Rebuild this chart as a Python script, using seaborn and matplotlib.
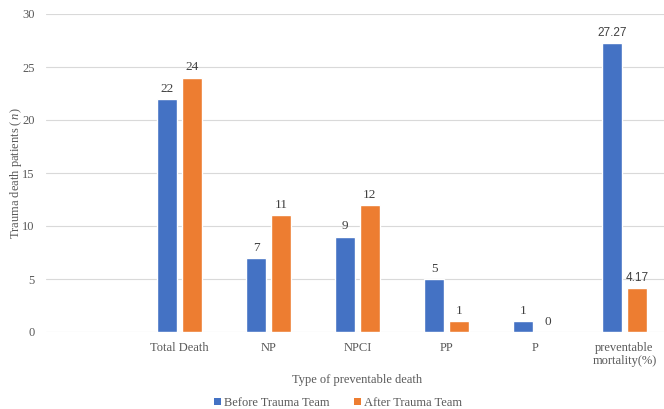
import matplotlib
matplotlib.use("Agg")
import matplotlib.pyplot as plt
from matplotlib.patches import Patch
import seaborn as sns
import pandas as pd

# Preventable death categories (leading blank slot keeps the left margin)
categories = ["", "Total Death", "NP", "NPCI", "PP", "P", "preventable\nmortality(%)"]
before_team = [None, 22, 7, 9, 5, 1, 27.27]
after_team = [None, 24, 11, 12, 1, 0, 4.17]
series_names = ["Before Trauma Team", "After Trauma Team"]
colors = ["#4472C4", "#ED7D31"]

rows = []
for cat, b, a in zip(categories, before_team, after_team):
    rows.append({"category": cat, "group": series_names[0], "value": b})
    rows.append({"category": cat, "group": series_names[1], "value": a})
df = pd.DataFrame(rows)

sns.set_theme(style="white")
plt.rcParams["font.family"] = ["Liberation Serif", "DejaVu Serif"]
plt.rcParams["mathtext.fontset"] = "custom"
plt.rcParams["mathtext.it"] = "Liberation Serif:italic"
plt.rcParams["mathtext.rm"] = "Liberation Serif"

fig = plt.figure(figsize=(6.64, 4.09), dpi=100)
ax = fig.add_axes([46 / 664, 77 / 409, 623 / 664, 318 / 409])

sns.barplot(
    data=df, x="category", y="value", hue="group", order=categories,
    hue_order=series_names, palette=colors, width=0.56, gap=0.2,
    saturation=1, legend=False, ax=ax, errorbar=None,
)

ax.set_ylim(0, 30)
ax.set_yticks(range(0, 31, 5))
ax.set_xlim(-0.5, len(categories) - 0.5)
ax.yaxis.grid(True, color="#D9D9D9", linewidth=0.8)
ax.set_axisbelow(True)
for s in ax.spines.values():
    s.set_visible(False)
ax.tick_params(axis="both", length=0, colors="#595959", labelsize=9)
ax.tick_params(axis="y", pad=8)
ax.tick_params(axis="x", pad=7)
for lbl in ax.get_xticklabels():
    lbl.set_linespacing(1.15)

# Value labels above each bar
for container in ax.containers:
    for bar in container:
        if bar is None:
            continue
        v = bar.get_height()
        if float(v).is_integer():
            txt, fam, fs = str(int(v)), ["Liberation Serif"], 9.5
        else:
            txt, fam, fs = f"{v:.2f}", ["Liberation Sans", "DejaVu Sans"], 8.5
        ax.annotate(txt, (bar.get_x() + bar.get_width() / 2, v),
                    xytext=(0, 3), textcoords="offset points",
                    ha="center", va="bottom", fontsize=fs, color="#404040",
                    fontfamily=fam)

ax.set_xlabel("Type of preventable death", fontsize=9, color="#595959", labelpad=5)
ax.set_ylabel(r"Trauma death patients$\;(\,n\,)$", fontsize=9, color="#595959")
ax.yaxis.set_label_coords(-0.036, 0.5)

handles = [Patch(facecolor=c, edgecolor="none") for c in colors]
fig.legend(handles, series_names, loc="center", bbox_to_anchor=(338 / 664, 6 / 409),
           ncol=2, frameon=False, fontsize=9, handlelength=0.55, handleheight=0.55,
           handletextpad=0.25, columnspacing=2.0, labelcolor="#595959")

fig.savefig("out.png", dpi=100)
